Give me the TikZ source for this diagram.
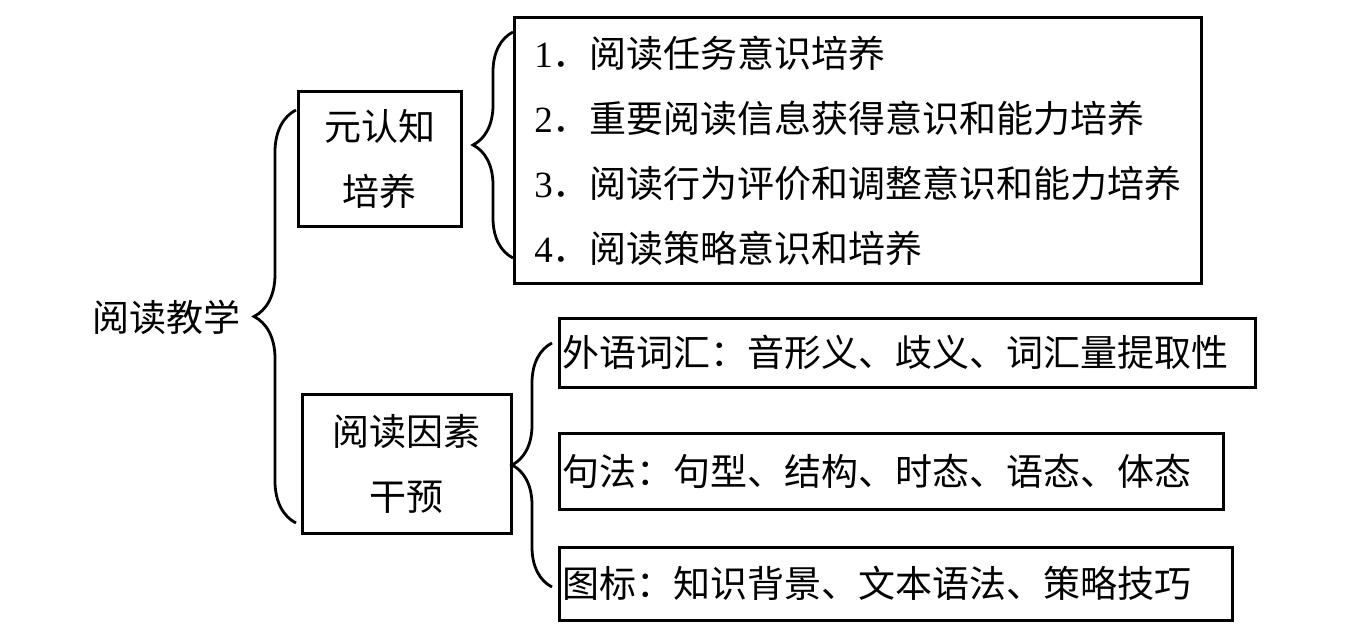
\documentclass[tikz,border=0pt]{standalone}
\usepackage{fontspec}
\setmainfont{Liberation Serif}
\newfontfamily\cjk{Noto Sans CJK SC}
\usetikzlibrary{decorations.pathreplacing,calc}
\newcommand{\dgt}[1]{{\rmfamily #1}}

\begin{document}
\begin{tikzpicture}[x=0.5pt, y=-0.5pt,
  lbl/.style={font=\cjk\fontsize{18.5}{32.5}\selectfont, inner sep=0pt},
  boxn/.style={draw=black, line width=1.5pt, font=\cjk\fontsize{18.5}{32.5}\selectfont, align=center},
  rowbox/.style={boxn, anchor=west, align=left, inner xsep=1.5pt, inner ysep=0pt},
  brc/.style={draw=black, line width=1.4pt, decorate, decoration={brace, amplitude=#1}},
  brc/.default=20pt
]
\useasboundingbox (0,0) rectangle (1354,636);

\node[lbl] (njx) at (166,317) {阅读教学};
\node[boxn, minimum width=81.5pt, minimum height=67.5pt] (nyrz) at (379.5,159.5) {元认知\\培养};
\node[boxn, minimum width=343pt, minimum height=133pt, align=left, inner xsep=10pt] (nlist) at (858,151)
  {\dgt{1}．阅读任务意识培养\\
   \dgt{2}．重要阅读信息获得意识和能力培养\\
   \dgt{3}．阅读行为评价和调整意识和能力培养\\
   \dgt{4}．阅读策略意识和培养};
\node[boxn, minimum width=104.5pt, minimum height=69.5pt] (nydys) at (406.5,463.5) {阅读因素\\干预};
\node[rowbox, minimum height=34.5pt, text width=345pt] (nva) at (558,352.5) {外语词汇：音形义、歧义、词汇量提取性};
\node[rowbox, minimum height=38pt, text width=329pt] (nvb) at (558,471) {句法：句型、结构、时态、语态、体态};
\node[rowbox, minimum height=36.5pt, text width=333.5pt] (nvc) at (558,583.5) {图标：知识背景、文本语法、策略技巧};

% brace ends
\coordinate (b1s) at (296,523);
\coordinate (b1e) at (296,110);
\coordinate (b2s) at (513,258);
\coordinate (b2e) at (513,32);
\coordinate (b3s) at (552,587);
\coordinate (b3e) at (552,343);
\draw[brc=21pt] (b1s) -- (b1e);
\draw[brc] (b2s) -- (b2e);
\draw[brc] (b3s) -- (b3e);

\end{tikzpicture}
\end{document}
